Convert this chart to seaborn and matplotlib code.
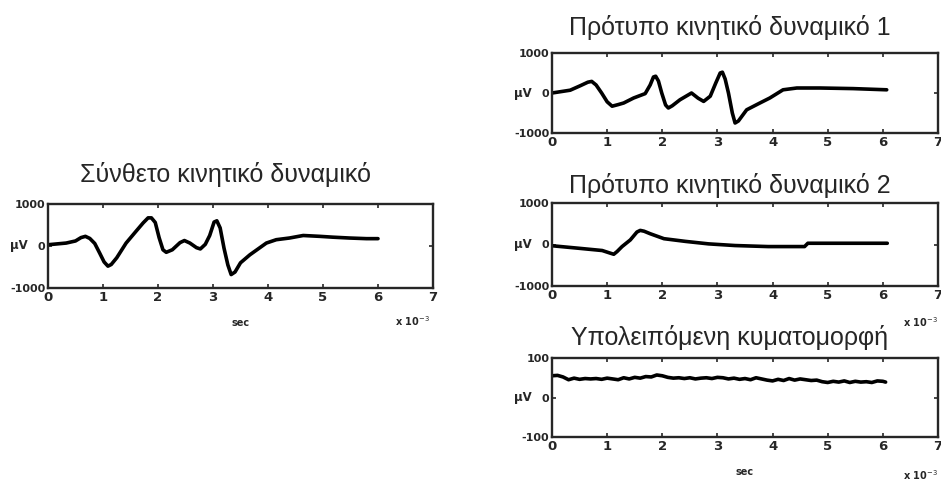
import numpy as np
import matplotlib
matplotlib.use("Agg")
import matplotlib.pyplot as plt
import seaborn as sns

sns.set_style("ticks")
plt.rcParams['font.family'] = ['Liberation Sans', 'DejaVu Sans']
plt.rcParams['axes.unicode_minus'] = False

# composite potential (time in ms, amplitude in uV)
comp_t = [0, 0.33, 0.5, 0.6, 0.68, 0.76, 0.85, 0.94, 1.02, 1.09, 1.15, 1.25, 1.42, 1.6,
          1.73, 1.82, 1.88, 1.95, 2.02, 2.09, 2.15, 2.26, 2.4, 2.48, 2.58, 2.7, 2.77,
          2.86, 2.94, 3.02, 3.07, 3.13, 3.2, 3.27, 3.33, 3.4, 3.5, 3.67, 3.97, 4.15,
          4.39, 4.64, 4.94, 5.18, 5.48, 5.79, 6.0]
comp_v = [30, 70, 120, 200, 230, 180, 60, -170, -380, -480, -440, -280, 70, 350,
          550, 670, 670, 560, 200, -90, -150, -90, 80, 130, 70, -40, -70,
          40, 250, 570, 600, 430, -50, -450, -680, -620, -400, -210, 70, 150,
          190, 250, 230, 210, 190, 175, 175]

# template 1
t1_t = [0, 0.33, 0.51, 0.65, 0.72, 0.8, 0.9, 1.0, 1.09, 1.2, 1.3, 1.48, 1.69, 1.78,
        1.84, 1.88, 1.93, 1.99, 2.06, 2.11, 2.18, 2.32, 2.53, 2.65, 2.75, 2.87, 2.97,
        3.05, 3.09, 3.14, 3.2, 3.27, 3.32, 3.38, 3.53, 3.77, 3.95, 4.19, 4.44, 4.86,
        5.46, 6.07]
t1_v = [0, 70, 180, 270, 290, 200, 0, -220, -330, -290, -250, -125, -15, 200,
        400, 420, 300, 0, -300, -375, -320, -170, 0, -130, -210, -80, 250,
        500, 520, 350, 0, -500, -750, -700, -420, -250, -125, 80, 125, 125,
        110, 80]

# template 2
t2_t = [0, 0.48, 0.91, 1.06, 1.12, 1.18, 1.27, 1.42, 1.54, 1.6, 1.67, 1.78, 2.03, 2.42,
        2.84, 3.32, 3.92, 4.58, 4.64, 5.12, 6.08]
t2_v = [-30, -90, -145, -210, -235, -170, -50, 110, 300, 340, 320, 260, 140, 75,
        15, -25, -50, -50, 30, 30, 30]

# residual waveform
res_t = [0, 0.1, 0.2, 0.3, 0.4, 0.5, 0.6, 0.7, 0.8, 0.9, 1.0, 1.1, 1.2, 1.3, 1.4, 1.5,
         1.6, 1.7, 1.8, 1.9, 2.0, 2.1, 2.2, 2.3, 2.4, 2.5, 2.6, 2.7, 2.8, 2.9, 3.0,
         3.1, 3.2, 3.3, 3.4, 3.5, 3.6, 3.7, 3.8, 3.9, 4.0, 4.1, 4.2, 4.3, 4.4, 4.5,
         4.6, 4.7, 4.8, 4.9, 5.0, 5.1, 5.2, 5.3, 5.4, 5.5, 5.6, 5.7, 5.8, 5.9, 6.0, 6.05]
res_v = [55, 56, 52, 45, 49, 46, 48, 47, 48, 46, 49, 47, 45, 50, 47, 51,
         49, 53, 52, 57, 55, 51, 49, 50, 48, 50, 47, 49, 50, 48, 51,
         50, 47, 49, 46, 48, 45, 50, 47, 44, 42, 46, 43, 48, 44, 47,
         45, 43, 44, 40, 38, 41, 39, 42, 38, 41, 39, 40, 38, 42, 41, 39]

titles = ['Σύνθετο κινητικό δυναμικό', 'Πρότυπο κινητικό δυναμικό 1',
          'Πρότυπο κινητικό δυναμικό 2', 'Υπολειπόμενη κυματομορφή']
xticks = [0, 1, 2, 3, 4, 5, 6, 7]

W, H = 941, 482
fig = plt.figure(figsize=(W / 100, H / 100), dpi=100)
bold = dict(fontweight='bold', family='DejaVu Sans')


def box(x0, y0, x1, y1):
    return [x0 / W, 1 - y1 / H, (x1 - x0) / W, (y1 - y0) / H]


def draw(rect, t, v, title, lim, tpad, xlab=False):
    ax = fig.add_axes(rect)
    sns.lineplot(x=t, y=v, ax=ax, color='black', lw=2.6, sort=False,
                 solid_joinstyle='round', solid_capstyle='round')
    ax.set_xlim(0, 7)
    ax.set_ylim(-lim, lim)
    ax.set_xticks(xticks)
    ax.set_xticklabels([str(i) for i in xticks], fontsize=9.5, **bold)
    ax.set_yticks([-lim, 0, lim])
    ax.set_yticklabels([str(-lim), '0', str(lim)], fontsize=8, **bold)
    ax.tick_params(direction='in', top=True, right=True, length=3, width=1.2, pad=2)
    for s in ax.spines.values():
        s.set_linewidth(1.7)
    ax.set_title(title, fontsize=18, pad=tpad, x=0.46)
    ax.set_ylabel('μV', rotation=0, fontsize=8.5, va='center', ha='center', **bold)
    ax.yaxis.set_label_coords(-0.075, 0.5)
    if xlab:
        ax.set_xlabel('sec', fontsize=7, labelpad=10, **bold)
    return ax


a0 = draw(box(48, 204, 433, 288), comp_t, comp_v, titles[0], 1000, 16, xlab=True)
a1 = draw(box(552, 53, 938, 133), t1_t, t1_v, titles[1], 1000, 13)
a2 = draw(box(552, 203, 938, 286), t2_t, t2_v, titles[2], 1000, 7)
a3 = draw(box(552, 358, 938, 437), res_t, res_v, titles[3], 100, 9, xlab=True)

fig.text(430 / W, 1 - 321 / H, 'x 10$^{-3}$', fontsize=7, ha='right', va='center', **bold)
fig.text(938 / W, 1 - 322 / H, 'x 10$^{-3}$', fontsize=7, ha='right', va='center', **bold)
fig.text(938 / W, 1 - 475 / H, 'x 10$^{-3}$', fontsize=7, ha='right', va='center', **bold)

fig.savefig('out.png', dpi=100)
